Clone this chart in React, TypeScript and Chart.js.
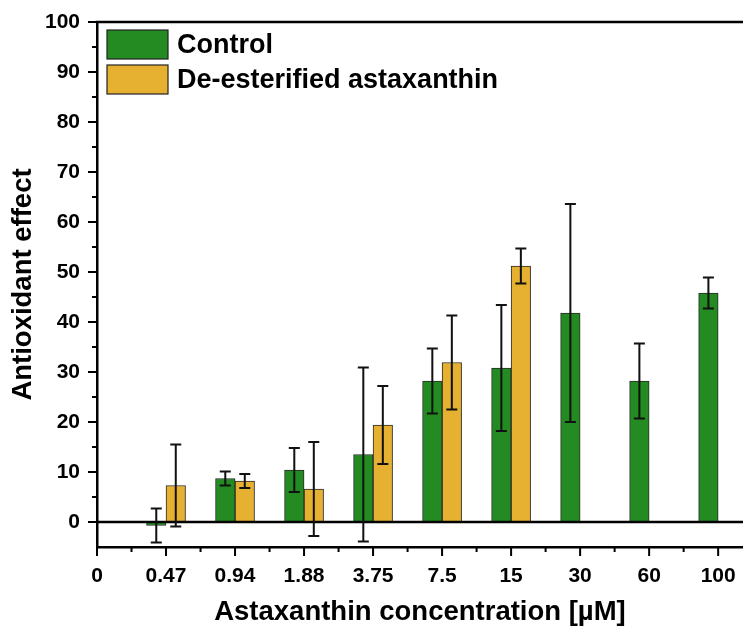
import React, { useEffect, useRef } from 'react';
import { Chart, registerables } from 'chart.js';

Chart.register(...registerables);

// ---- data ----
const categories = ['0', '0.47', '0.94', '1.88', '3.75', '7.5', '15', '30', '60', '100'];
const concPositions = [1, 2, 3, 4, 5, 6, 7, 8, 9];
const controlMeans = [-0.7, 8.7, 10.4, 13.5, 28.2, 30.8, 41.8, 28.2, 45.8];
const controlErr = [3.4, 1.4, 4.4, 17.4, 6.5, 12.6, 21.8, 7.5, 3.1];
const deEstMeans = [7.3, 8.2, 6.6, 19.4, 31.9, 51.2, null, null, null];
const deEstErr = [8.2, 1.4, 9.4, 7.8, 9.4, 3.5, null, null, null];
const yTicks = [0, 10, 20, 30, 40, 50, 60, 70, 80, 90, 100];
const seriesNames = ['Control', 'De-esterified astaxanthin'];
const seriesColors = ['#238B22', '#E6B030'];

const FONT = '"Liberation Sans", Arial, Helvetica, sans-serif';

const errArrays = [controlErr, deEstErr];

const decorPlugin = {
  id: 'decor',
  afterDatasetsDraw(chart: any) {
    const ctx = chart.ctx;
    const ys = chart.scales.y;
    const area = chart.chartArea;
    ctx.save();
    // zero line
    ctx.strokeStyle = '#000';
    ctx.lineWidth = 2.5;
    const y0 = ys.getPixelForValue(0);
    ctx.beginPath();
    ctx.moveTo(area.left, y0);
    ctx.lineTo(area.right, y0);
    ctx.stroke();
    // error bars
    ctx.lineWidth = 2;
    ctx.strokeStyle = '#111';
    chart.data.datasets.forEach((ds: any, di: number) => {
      const meta = chart.getDatasetMeta(di);
      meta.data.forEach((bar: any, i: number) => {
        const m = ds.data[i].y;
        const e = errArrays[di][i];
        if (m == null || e == null || !isFinite(bar.x)) return;
        const yt = ys.getPixelForValue(m + e);
        const yb = ys.getPixelForValue(m - e);
        const x = bar.x;
        const cw = 5.5;
        ctx.beginPath();
        ctx.moveTo(x, yt);
        ctx.lineTo(x, yb);
        ctx.moveTo(x - cw, yt);
        ctx.lineTo(x + cw, yt);
        ctx.moveTo(x - cw, yb);
        ctx.lineTo(x + cw, yb);
        ctx.stroke();
      });
    });
    ctx.restore();
  },
  afterDraw(chart: any) {
    const ctx = chart.ctx;
    const xs = chart.scales.x;
    const ys = chart.scales.y;
    const area = chart.chartArea;
    ctx.save();
    ctx.strokeStyle = '#000';
    // top frame line
    ctx.lineWidth = 2.5;
    ctx.beginPath();
    ctx.moveTo(area.left - 1.25, area.top);
    ctx.lineTo(area.right, area.top);
    ctx.stroke();
    // tick marks
    ctx.lineWidth = 2;
    ctx.beginPath();
    for (let v = 0; v <= 100; v += 5) {
      const py = ys.getPixelForValue(v);
      const len = v % 10 === 0 ? 9 : 5;
      ctx.moveTo(area.left, py);
      ctx.lineTo(area.left - len, py);
    }
    for (let k = 0; k < categories.length * 2; k++) {
      const v = k / 2;
      if (v > xs.max) break;
      const px = xs.getPixelForValue(v);
      const len = k % 2 === 0 ? 9 : 5;
      ctx.moveTo(px, area.bottom);
      ctx.lineTo(px, area.bottom + len);
    }
    ctx.stroke();
    // legend
    const boxX = 107, boxW = 61, boxH = 29;
    const boxYs = [30, 65];
    ctx.font = `bold 27px ${FONT}`;
    ctx.textBaseline = 'middle';
    ctx.textAlign = 'left';
    seriesNames.forEach((name, i) => {
      ctx.fillStyle = seriesColors[i];
      ctx.fillRect(boxX, boxYs[i], boxW, boxH);
      ctx.lineWidth = 1.2;
      ctx.strokeStyle = '#222';
      ctx.strokeRect(boxX, boxYs[i], boxW, boxH);
      ctx.fillStyle = '#000';
      ctx.fillText(name, 177, boxYs[i] + boxH / 2 + 1);
    });
    ctx.restore();
  },
};

export default function App() {
  const ref = useRef<HTMLCanvasElement | null>(null);
  useEffect(() => {
    if (!ref.current) return;
    const mk = (means: (number | null)[]) => concPositions.map((x, i) => ({ x, y: means[i] }));
    const chart = new Chart(ref.current, {
      type: 'bar',
      data: {
        datasets: [
          {
            label: seriesNames[0],
            data: mk(controlMeans) as any,
            backgroundColor: seriesColors[0],
            borderColor: '#2a2a2a',
            borderWidth: 1,
            barThickness: 19.5,
          },
          {
            label: seriesNames[1],
            data: mk(deEstMeans) as any,
            backgroundColor: seriesColors[1],
            borderColor: '#2a2a2a',
            borderWidth: 1,
            barThickness: 19.5,
          },
        ],
      },
      options: {
        animation: false,
        responsive: false,
        maintainAspectRatio: false,
        devicePixelRatio: 1,
        layout: { padding: { top: 22, left: 0, right: 0, bottom: 0 } },
        plugins: {
          legend: { display: false },
          tooltip: { enabled: false },
        },
        scales: {
          x: {
            type: 'linear',
            min: 0,
            max: 9.36,
            offset: false,
            grid: { display: false, drawTicks: false, offset: false },
            border: { display: true, color: '#000', width: 2.5 },
            afterBuildTicks: (scale: any) => {
              scale.ticks = categories.map((_, i) => ({ value: i }));
            },
            afterFit: (scale: any) => {
              scale.height = 83;
              scale.paddingLeft = 0;
              scale.paddingRight = 0;
            },
            ticks: {
              autoSkip: false,
              maxRotation: 0,
              padding: 17,
              color: '#000',
              font: { family: FONT, size: 21, weight: 'bold' },
              callback: (v: any) => categories[Math.round(Number(v))] ?? '',
            },
            title: {
              display: true,
              text: 'Astaxanthin concentration [µM]',
              color: '#000',
              font: { family: FONT, size: 27.5, weight: 'bold' },
              padding: { top: 0, bottom: 1 },
            },
          },
          y: {
            type: 'linear',
            min: -5,
            max: 100,
            grid: { display: false, drawTicks: false },
            border: { display: true, color: '#000', width: 2.5 },
            afterBuildTicks: (scale: any) => {
              scale.ticks = yTicks.map((v) => ({ value: v }));
            },
            afterFit: (scale: any) => {
              scale.width = 97;
              scale.paddingTop = 0;
              scale.paddingBottom = 0;
            },
            ticks: {
              padding: 17,
              color: '#000',
              font: { family: FONT, size: 21, weight: 'bold' },
            },
            title: {
              display: true,
              text: 'Antioxidant effect',
              color: '#000',
              font: { family: FONT, size: 27.5, weight: 'bold' },
              padding: { top: 7, bottom: 0 },
            },
          },
        },
      } as any,
      plugins: [decorPlugin],
    });
    return () => chart.destroy();
  }, []);
  return (
    <div style={{ position: 'absolute', left: 0, top: 0, width: 743, height: 630, background: '#fff' }}>
      <canvas ref={ref} width={743} height={630} />
    </div>
  );
}
